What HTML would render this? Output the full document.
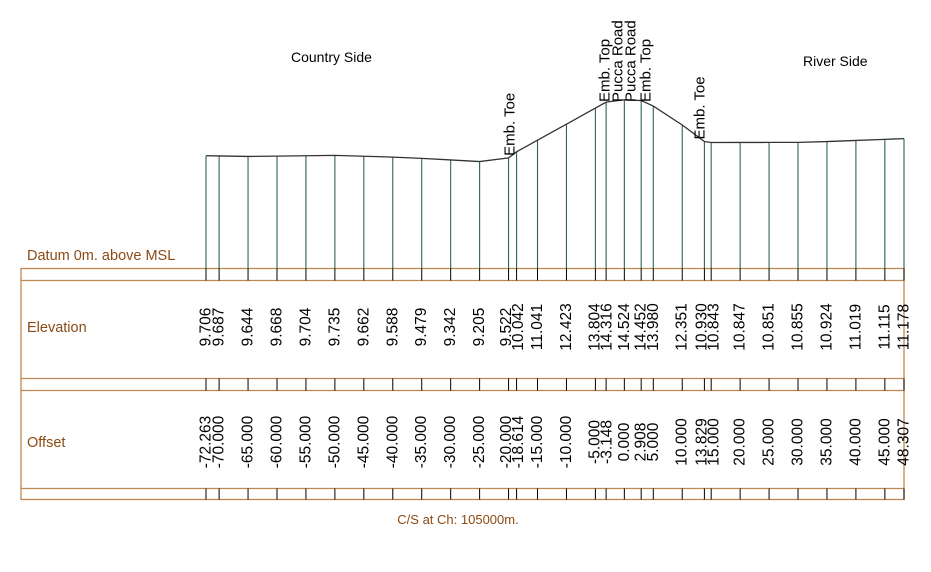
<!DOCTYPE html>
<html><head><meta charset="utf-8"><style>
body{margin:0;background:#fff}
svg{display:block;font-family:"Liberation Sans",Arial,sans-serif}
</style></head><body>
<svg id="c" width="931" height="572" viewBox="0 0 931 572">
<text x="291" y="62" font-size="14" fill="#000">Country Side</text>
<text x="803" y="66" font-size="14" fill="#000">River Side</text>
<text x="27" y="260" font-size="14.5" fill="#8b4a14">Datum 0m. above MSL</text>
<text x="27" y="332" font-size="14.5" fill="#8b4a14">Elevation</text>
<text x="27" y="447" font-size="14.5" fill="#8b4a14">Offset</text>
<text x="458" y="524" font-size="13" fill="#8b4a14" text-anchor="middle">C/S at Ch: 105000m.</text>
<g id="frame" stroke="#c08850" stroke-width="1.3" fill="none">
<rect x="21" y="268.5" width="883" height="231"/>
<line x1="21" y1="280.5" x2="904" y2="280.5"/>
<line x1="21" y1="378.5" x2="904" y2="378.5"/>
<line x1="21" y1="390.5" x2="904" y2="390.5"/>
<line x1="21" y1="488.5" x2="904" y2="488.5"/>
</g>
<g id="marks"></g>
</svg>
<script>
const offsets=[-72.263,-70,-65,-60,-55,-50,-45,-40,-35,-30,-25,-20,-18.614,-15,-10,-5,-3.148,0,2.908,5,10,13.829,15,20,25,30,35,40,45,48.307];
const elevations=[9.706,9.687,9.644,9.668,9.704,9.735,9.662,9.588,9.479,9.342,9.205,9.522,10.042,11.041,12.423,13.804,14.316,14.524,14.452,13.980,12.351,10.930,10.843,10.847,10.851,10.855,10.924,11.019,11.115,11.178];
const offsetLabels=["-72.263","-70.000","-65.000","-60.000","-55.000","-50.000","-45.000","-40.000","-35.000","-30.000","-25.000","-20.000","-18.614","-15.000","-10.000","-5.000","-3.148","0.000","2.908","5.000","10.000","13.829","15.000","20.000","25.000","30.000","35.000","40.000","45.000","48.307"];
const featureOffsets=[-20,-5,-3.148,2.908,5,13.829];
const featureNames=["Emb. Toe","Emb. Top","Pucca Road","Pucca Road","Emb. Top","Emb. Toe"];
const xMin=-72.263,xMax=48.307,X0=206,X1=904,DATUM=268.5,YS=11.62;
const xs=v=>X0+(v-xMin)/(xMax-xMin)*(X1-X0);
const ys=e=>DATUM-e*YS;
const NS="http://www.w3.org/2000/svg";
const g=document.getElementById('marks');
function mk(t,a){const e=document.createElementNS(NS,t);for(const k in a)e.setAttribute(k,a[k]);g.appendChild(e);return e;}
offsets.forEach((o,i)=>{
  const x=xs(o);
  const l=mk('line',{x1:x,y1:ys(elevations[i]),x2:x,y2:DATUM,stroke:'#2d6650','stroke-width':1.1});
  
  
  [[268.5,280.5],[378.5,390.5],[488.5,499.5]].forEach(b=>{
    const t=mk('line',{x1:x,y1:b[0],x2:x,y2:b[1],stroke:'#000','stroke-width':1});
    
    
  });
});
const p=mk('polyline',{points:offsets.map((o,i)=>xs(o)+','+ys(elevations[i])).join(' '),fill:'none',stroke:'#333','stroke-width':1.3});


const raw=offsets.map(xs);
let pos=raw.slice();const GAP=12;
for(let i=1;i<pos.length;i++)if(pos[i]-pos[i-1]<GAP)pos[i]=pos[i-1]+GAP;
let i=0;
while(i<pos.length){let j=i;while(j+1<pos.length&&pos[j+1]-pos[j]<=GAP+0.01&&pos[j+1]!==raw[j+1])j++;
  if(j>i){let d=0;for(let k=i;k<=j;k++)d+=raw[k]-pos[k];d/=(j-i+1);if(d>0)d=0;for(let k=i;k<=j;k++)pos[k]+=d;}
  i=j+1;}
function vtext(x,y,s,fs,name){
  const t=mk('text',{x:0,y:0,transform:`translate(${x},${y}) rotate(-90)`,'font-size':fs,'text-anchor':'middle','dominant-baseline':'central',fill:'#000'});
  t.textContent=s;
  
  
}
elevations.forEach((e,k)=>vtext(pos[k],327,e.toFixed(3),15.5,'elevation-value'));
offsetLabels.forEach((s,k)=>vtext(pos[k],442,s,15.5,'offset-value'));
const fx=[510,605,618,631,646,700];
featureOffsets.forEach((o,k)=>{
  const idx=offsets.indexOf(o);
  const y=k>=1&&k<=4?102:ys(elevations[idx])-2;
  const t=mk('text',{x:0,y:0,transform:`translate(${fx[k]},${y}) rotate(-90)`,'font-size':15,'dominant-baseline':'central',fill:'#000'});
  t.textContent=featureNames[k];
  
  
});
</script>
</body></html>
